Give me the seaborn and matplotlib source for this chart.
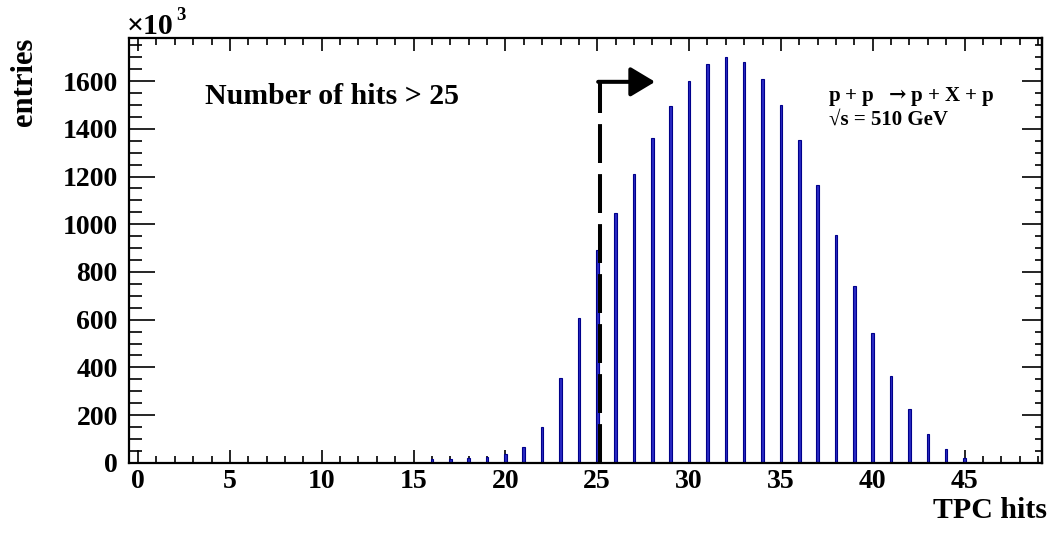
import matplotlib
matplotlib.use("Agg")
import matplotlib.pyplot as plt
from matplotlib.ticker import MultipleLocator, NullFormatter
import seaborn as sns

# TPC hit multiplicity, entries in thousands
tpc_hits = [16, 17, 18, 19, 20, 21, 22, 23, 24, 25, 26, 27, 28, 29, 30, 31,
            32, 33, 34, 35, 36, 37, 38, 39, 40, 41, 42, 43, 44, 45, 46]
entries_k = [15, 17, 20, 23, 35, 67, 151, 354, 605, 890, 1047, 1209, 1360,
             1495, 1600, 1670, 1701, 1680, 1607, 1501, 1352, 1163, 953, 742,
             543, 365, 225, 122, 56, 20, 5]

hits_cut = 25
cut_line_x = 25.13
cut_arrow_y = 1597
cut_arrow_tip = 28.15

sns.set_style("ticks")
plt.rcParams["font.family"] = ["Liberation Serif", "DejaVu Serif"]
plt.rcParams["font.weight"] = "bold"
plt.rcParams["mathtext.fontset"] = "dejavuserif"
plt.rcParams["lines.scale_dashes"] = False
for key in ["text.color", "axes.labelcolor", "xtick.color", "ytick.color",
            "axes.edgecolor"]:
    plt.rcParams[key] = "black"

W, H = 1051, 535
fig = plt.figure(figsize=(W / 100, H / 100), dpi=100)
ax = fig.add_axes([128.9 / W, 1 - 462.8 / H, (1041.7 - 128.9) / W, (462.8 - 37.7) / H])

sns.histplot(x=tpc_hits, weights=entries_k, discrete=True, shrink=0.14,
             color="#2b2bc4", edgecolor="#00008b", linewidth=0.8, alpha=1.0,
             ax=ax)

ax.set_xlim(-0.5, 49.2)
ax.set_ylim(0, 1782)

# axis ticks, inward on all four sides
ax.xaxis.set_major_locator(MultipleLocator(5))
ax.xaxis.set_minor_locator(MultipleLocator(1))
ax.yaxis.set_major_locator(MultipleLocator(200))
ax.yaxis.set_minor_locator(MultipleLocator(50))
ax.tick_params(axis="x", which="both", direction="in", top=True, bottom=True,
               width=1.2, labelsize=20, pad=4.5, colors="black")
ax.tick_params(axis="x", which="major", length=9.5)
ax.tick_params(axis="x", which="minor", length=5)
ax.tick_params(axis="y", which="both", direction="in", left=True, right=False,
               width=1.2, labelsize=20, pad=8, colors="black")
ax.tick_params(axis="y", which="major", length=18.5)
ax.tick_params(axis="y", which="minor", length=9)

sec = ax.secondary_yaxis("right")
sec.yaxis.set_major_locator(MultipleLocator(200))
sec.yaxis.set_minor_locator(MultipleLocator(50))
sec.yaxis.set_major_formatter(NullFormatter())
sec.tick_params(axis="y", which="both", direction="in", width=1.2, colors="black")
sec.tick_params(axis="y", which="major", length=14.5)
sec.tick_params(axis="y", which="minor", length=5)
sec.spines["right"].set_linewidth(1.6)
sec.spines["right"].set_color("black")

for side in ["left", "right", "top", "bottom"]:
    ax.spines[side].set_visible(True)
    ax.spines[side].set_linewidth(1.6)
    ax.spines[side].set_color("black")

for lab in ax.get_xticklabels() + ax.get_yticklabels():
    lab.set_fontweight("bold")
    lab.set_color("black")

ax.set_ylabel("entries", fontsize=22, fontweight="bold", loc="top", color="black")
ax.yaxis.set_label_coords(-0.098, 1.0)
ax.set_xlabel("TPC hits", fontsize=21.5, fontweight="bold", loc="right", color="black")
ax.xaxis.set_label_coords(1.006, -0.080)

# exponent marker of the y axis
fig.text(127 / W, 1 - 34 / H, "×10", fontsize=21.5, fontweight="bold",
         ha="left", va="baseline")
fig.text(176 / W, 1 - 20 / H, "3", fontsize=13.5, fontweight="bold",
         ha="left", va="baseline")

# selection cut: dashed line with arrow pointing to accepted region
ax.plot([cut_line_x, cut_line_x], [0, cut_arrow_y], color="black", lw=2.9,
        linestyle=(0, (28, 8)), solid_capstyle="butt", dash_capstyle="butt")
ax.annotate("", xy=(cut_arrow_tip, cut_arrow_y), xytext=(cut_line_x - 0.08, cut_arrow_y),
            arrowprops=dict(arrowstyle="-|>,head_length=1.0,head_width=0.6",
                            mutation_scale=15, lw=2.9, color="black",
                            shrinkA=0, shrinkB=0))

fig.text(205 / W, 1 - 104 / H, f"Number of hits > {hits_cut}", fontsize=21.5,
         fontweight="bold", ha="left", va="baseline")
fig.text(828 / W, 1 - 100.5 / H, r"p + p  $\rightarrow$p + X + p", fontsize=15,
         fontweight="bold", ha="left", va="baseline")
fig.text(829 / W, 1 - 124.5 / H, "\u221as = 510 GeV", fontsize=15,
         fontweight="bold", ha="left", va="baseline")

fig.savefig("out.png", dpi=100)
